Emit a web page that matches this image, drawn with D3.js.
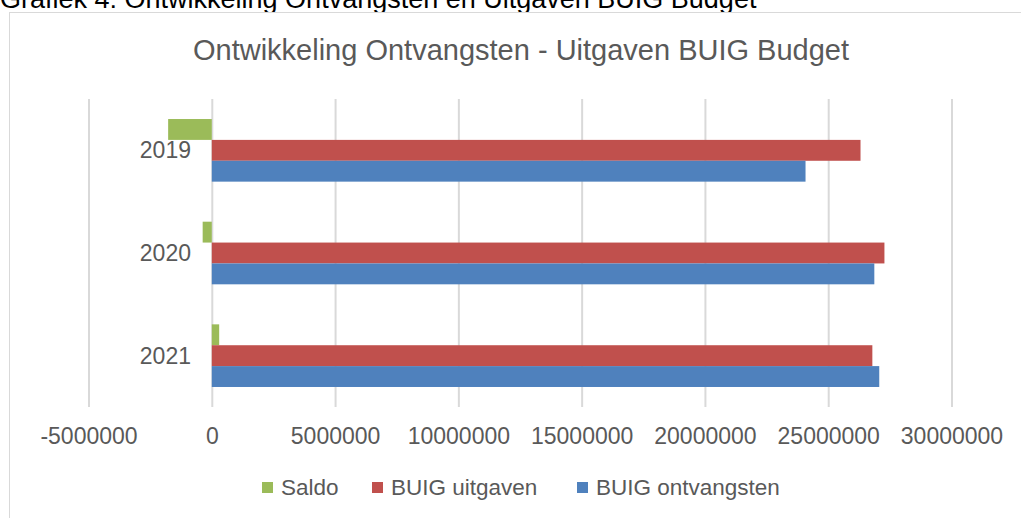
<!DOCTYPE html>
<html>
<head>
<meta charset="utf-8">
<script src="https://cdn.jsdelivr.net/npm/d3@7"></script>
<style>
  html, body { margin: 0; padding: 0; background: #fff; overflow: hidden; }
  svg { display: block; font-family: "Liberation Sans", Arial, sans-serif; }
</style>
</head>
<body>
<svg id="chart" width="1021" height="518"></svg>
<script>
// ---- data ----
const categories = ["2019", "2020", "2021"];
const seriesNames = ["Saldo", "BUIG uitgaven", "BUIG ontvangsten"];
const saldo = [-1770000, -370000, 300000];
const uitgaven = [26310000, 27280000, 26790000];
const ontvangsten = [24080000, 26870000, 27070000];
const tickValues = [-5000000, 0, 5000000, 10000000, 15000000, 20000000, 25000000, 30000000];
const tickLabels = ["-5000000", "0", "5000000", "10000000", "15000000", "20000000", "25000000", "30000000"];
const colors = ["#9BBB59", "#C0504D", "#4F81BD"];

const seriesValues = [saldo, uitgaven, ontvangsten];

const svg = d3.select("#chart");
const textColor = "#595959";

// header (cut off at top, as in the source)
svg.append("text")
  .attr("x", 0).attr("y", 8)
  .attr("font-size", 27)
  .attr("fill", "#000")
  .text("Grafiek 4: Ontwikkeling Ontvangsten en Uitgaven BUIG Budget");

// chart border
svg.append("rect")
  .attr("x", 9.5).attr("y", 12.5)
  .attr("width", 1030).attr("height", 530)
  .attr("fill", "#fff")
  .attr("stroke", "#d9d9d9").attr("stroke-width", 1);

// title
svg.append("text")
  .attr("x", 521).attr("y", 60)
  .attr("text-anchor", "middle")
  .attr("font-size", 29)
  .attr("fill", textColor)
  .text("Ontwikkeling Ontvangsten - Uitgaven BUIG Budget");

// scales
const x = d3.scaleLinear().domain([-5000000, 30000000]).range([88.5, 951.5]);
const y = d3.scaleBand().domain(categories).range([99, 407]).paddingInner(0.39).paddingOuter(0.195);
const ySub = d3.scaleBand().domain(seriesNames).range([0, y.bandwidth()]);

// gridlines
const grid = d3.axisBottom(x).tickValues(tickValues).tickSize(-(407 - 99)).tickFormat("");
const gG = svg.append("g").attr("transform", "translate(0,407)").call(grid);
gG.select(".domain").remove();
gG.selectAll(".tick line").attr("stroke", "#d9d9d9").attr("stroke-width", 2);

// bars
seriesNames.forEach((s, si) => {
  svg.append("g")
    .selectAll("rect")
    .data(categories)
    .join("rect")
    .attr("x", (c, i) => x(Math.min(0, seriesValues[si][i])))
    .attr("width", (c, i) => Math.abs(x(seriesValues[si][i]) - x(0)))
    .attr("y", c => y(c) + ySub(s))
    .attr("height", ySub.bandwidth())
    .attr("fill", colors[si]);
});

// x tick labels
const xAxis = d3.axisBottom(x).tickValues(tickValues).tickSize(0)
  .tickFormat((d, i) => tickLabels[i]);
const xg = svg.append("g").attr("transform", "translate(0,444)").call(xAxis);
xg.select(".domain").remove();
xg.selectAll(".tick text")
  .attr("y", 0).attr("dy", 0)
  .attr("font-size", 23)
  .attr("font-family", "Liberation Sans, Arial, sans-serif")
  .attr("fill", textColor);

// y category labels
const yAxis = d3.axisLeft(y).tickSize(0).tickPadding(0);
const yg = svg.append("g").attr("transform", "translate(191,0)").call(yAxis);
yg.select(".domain").remove();
yg.selectAll(".tick text")
  .attr("x", 0).attr("dy", "0.35em")
  .attr("font-size", 23)
  .attr("font-family", "Liberation Sans, Arial, sans-serif")
  .attr("fill", textColor);

// legend
const legendX = [262, 372, 577];
const lg = svg.append("g");
seriesNames.forEach((s, i) => {
  lg.append("rect")
    .attr("x", legendX[i]).attr("y", 482)
    .attr("width", 11).attr("height", 11)
    .attr("fill", colors[i]);
  lg.append("text")
    .attr("x", legendX[i] + 19).attr("y", 494.5)
    .attr("font-size", 22.5)
    .attr("fill", textColor)
    .text(s);
});
</script>
</body>
</html>
